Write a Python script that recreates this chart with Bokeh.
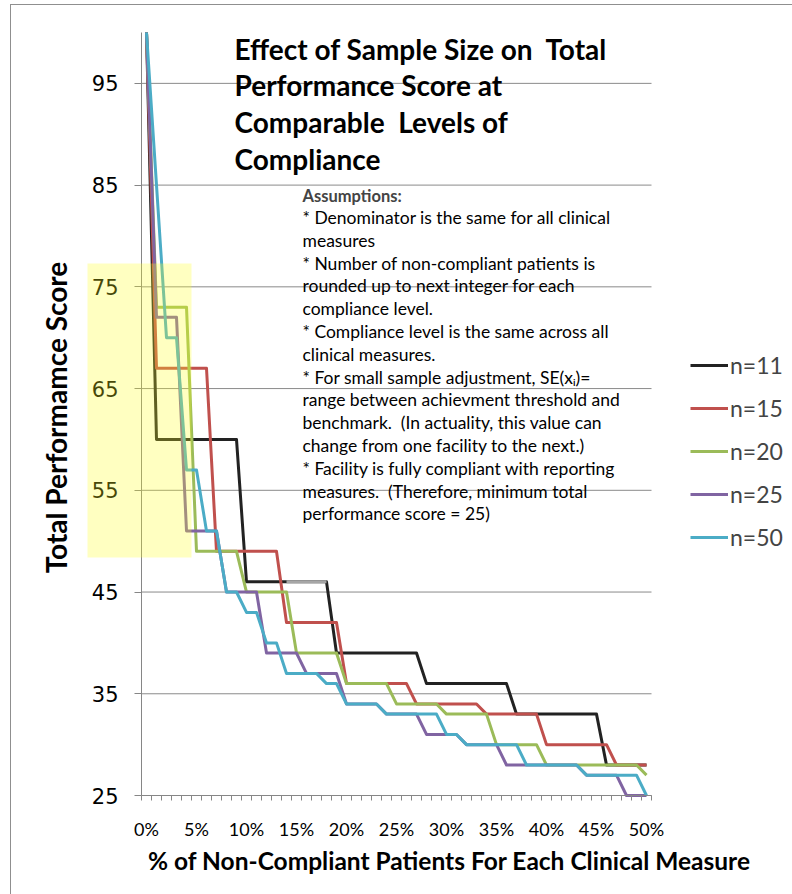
import math
from bokeh.plotting import figure
from bokeh.models import (Range1d, FixedTicker, Legend, LegendItem, BoxAnnotation, Label,
                          ColumnDataSource, InlineStyleSheet)
from bokeh.embed import file_html
from bokeh.resources import INLINE

NaN = float("nan")

# ---------------- data ----------------
pct = [0, 1, 2, 3, 4, 5, 6, 7, 8, 9, 10, 11, 12, 13, 14, 15, 16, 17, 18, 19, 20,
       21, 22, 23, 24, 25, 26, 27, 28, 29, 30, 31, 32, 33, 34, 35, 36, 37, 38, 39, 40,
       41, 42, 43, 44, 45, 46, 47, 48, 49, 50]

n11 = [100, 60, 60, 60, 60, 60, 60, 60, 60, 60, 46, 46, 46, 46, 46, 46, 46, 46, 46,
       39, 39, 39, 39, 39, 39, 39, 39, 39, 36, 36, 36, 36, 36, 36, 36, 36, 36,
       33, 33, 33, 33, 33, 33, 33, 33, 33, 28, 28, 28, 28, 28]
n11_grey = [NaN, NaN, NaN, NaN, NaN, NaN, NaN, NaN, NaN, NaN, NaN, NaN, NaN, NaN,
            46, 46, 46, 46, 46, NaN, NaN, NaN, NaN, NaN, NaN, NaN, NaN, NaN, NaN, NaN,
            NaN, NaN, NaN, NaN, NaN, NaN, NaN, NaN, NaN, NaN, NaN, NaN, NaN, NaN, NaN,
            NaN, NaN, NaN, NaN, NaN, NaN]
n15 = [100, 67, 67, 67, 67, 67, 67, 49, 49, 49, 49, 49, 49, 49, 42, 42, 42, 42, 42, 42,
       36, 36, 36, 36, 36, 36, 36, 34, 34, 34, 34, 34, 34, 34, 33, 33, 33, 33, 33, 33,
       30, 30, 30, 30, 30, 30, 30, 28, 28, 28, 28]
n20 = [100, 73, 73, 73, 73, 49, 49, 49, 49, 49, 45, 45, 45, 45, 45, 39, 39, 39, 39, 39,
       36, 36, 36, 36, 36, 34, 34, 34, 34, 34, 33, 33, 33, 33, 33, 30, 30, 30, 30, 30,
       28, 28, 28, 28, 28, 28, 28, 28, 28, 28, 27]
n25 = [100, 72, 72, 72, 51, 51, 51, 51, 45, 45, 45, 45, 39, 39, 39, 39, 37, 37, 37, 37,
       34, 34, 34, 34, 33, 33, 33, 33, 31, 31, 31, 31, 30, 30, 30, 30, 28, 28, 28, 28,
       28, 28, 28, 28, 27, 27, 27, 27, 25, 25, 25]
n50 = [100, 85, 70, 70, 57, 57, 51, 51, 45, 45, 43, 43, 40, 40, 37, 37, 37, 37, 36, 36,
       34, 34, 34, 34, 33, 33, 33, 33, 33, 33, 31, 31, 30, 30, 30, 30, 30, 30, 28, 28,
       28, 28, 28, 28, 27, 27, 27, 27, 27, 27, 25]

series_names = ["n=11", "n=15", "n=20", "n=25", "n=50"]
series_colors = ["#222222", "#C0504D", "#9BBB59", "#8064A2", "#4BACC6"]
grey_color = "#A6A6A6"

x_tick_values = [0, 5, 10, 15, 20, 25, 30, 35, 40, 45, 50]
x_tick_labels = ["0%", "5%", "10%", "15%", "20%", "25%", "30%", "35%", "40%", "45%", "50%"]
y_tick_values = [25, 35, 45, 55, 65, 75, 85, 95]

x_title = "% of Non-Compliant Patients For Each Clinical Measure"
y_title = "Total Performamce Score"
title_lines = ["Effect of Sample Size on\u00a0 Total", "Performance Score at",
               "Comparable\u00a0 Levels of", "Compliance"]
assumption_lines = [
    "* Denominator is the same for all clinical",
    "measures",
    "* Number of non-compliant patients is",
    "rounded up to next integer for each",
    "compliance level.",
    "* Compliance level is the same across all",
    "clinical measures.",
    "* For small sample adjustment, SE(x\u1d62)=",
    "range between achievment threshold and",
    "benchmark.\u00a0 (In actuality, this value can",
    "change from one facility to the next.)",
    "* Facility is fully compliant with reporting",
    "measures.\u00a0 (Therefore, minimum total",
    "performance score = 25)",
]

# ---------------- geometry ----------------
W, H = 792, 894
AX_L, AX_R, AX_T, AX_B = 141, 651, 32, 795      # plotting area in page pixels
XA, XB = -0.5, 50.5
YA, YB = 25, 100
ppx = (AX_R - AX_L) / (XB - XA)
ppy = (AX_B - AX_T) / (YB - YA)
X0 = XA - AX_L / ppx
X1 = X0 + W / ppx
Y0 = YA - (H - AX_B) / ppy
Y1 = Y0 + H / ppy

def xd(px):
    return X0 + px / ppx

def yd(py):
    return Y0 + (H - py) / ppy

p = figure(frame_width=W, frame_height=H, output_backend="svg", toolbar_location=None,
           x_range=Range1d(X0, X1), y_range=Range1d(Y0, Y1), min_border=0)
p.outline_line_color = None
p.background_fill_color = "white"
p.border_fill_color = "white"
p.stylesheets = [InlineStyleSheet(css=":host::before {content: ''; position: absolute; "
                                      "left: 10px; top: 4px; right: -20px; bottom: -20px; "
                                      "border: 1px solid #8f8f8f; pointer-events: none; z-index: 5;}")]

src = ColumnDataSource(dict(pct=pct, n11=n11, n11_grey=n11_grey, n15=n15, n20=n20,
                            n25=n25, n50=n50))

# horizontal gridlines over the plotting area
grid_src = ColumnDataSource(dict(y=y_tick_values, x0=[XA] * len(y_tick_values),
                                 x1=[XB] * len(y_tick_values)))
p.segment(x0="x0", x1="x1", y0="y", y1="y", source=grid_src, line_color="#8a8a8a",
          line_width=1)

renderers = []
cols = ["n11", "n15", "n20", "n25", "n50"]
for c, name, col in zip(cols, series_names, series_colors):
    r = p.line("pct", c, source=src, line_color=col, line_width=3, line_join="round")
    renderers.append(r)
    if c == "n11":
        p.line("pct", "n11_grey", source=src, line_color=grey_color, line_width=3)

# axes (placed inside the full-canvas frame)
p.xaxis.fixed_location = YA
p.xaxis.bounds = (XA, XB)
p.xaxis.ticker = FixedTicker(ticks=x_tick_values,
                             minor_ticks=[k - 0.5 for k in range(52)])
p.xaxis.major_label_overrides = dict(zip(x_tick_values, x_tick_labels))
p.xaxis.major_tick_out = 0
p.xaxis.major_tick_in = 0
p.xaxis.minor_tick_out = 5
p.xaxis.minor_tick_in = 0
p.xaxis.minor_tick_line_color = "#868686"
p.xaxis.axis_line_color = "#868686"
p.xaxis.major_label_text_font = "Lato"
p.xaxis.major_label_text_font_size = "18px"
p.xaxis.major_label_text_color = "black"
p.xaxis.major_label_standoff = 17

p.yaxis.fixed_location = XA
p.yaxis.bounds = (YA, YB)
p.yaxis.ticker = FixedTicker(ticks=y_tick_values, minor_ticks=[])
p.yaxis.major_tick_out = 7
p.yaxis.major_tick_in = 0
p.yaxis.major_tick_line_color = "#868686"
p.yaxis.axis_line_color = "#868686"
p.yaxis.major_label_text_font = "DejaVu Sans"
p.yaxis.major_label_text_font_size = "21px"
p.yaxis.major_label_text_color = "black"
p.yaxis.major_label_standoff = 16

p.xgrid.visible = False
p.ygrid.visible = False

# axis titles
p.add_layout(Label(x=xd(449), y=yd(860), text=x_title, text_font="Lato",
                   text_font_style="bold", text_font_size="24.5px", text_align="center",
                   text_baseline="middle", text_color="black"))
p.add_layout(Label(x=xd(55), y=yd(417), text=y_title, text_font="Lato", angle=math.pi / 2,
                   text_font_style="bold", text_font_size="28px", text_align="center",
                   text_baseline="middle", text_color="black"))

# chart title
for i, t in enumerate(title_lines):
    p.add_layout(Label(x=xd(234), y=yd(48 + 36.7 * i), text=t, text_font="Lato",
                       text_font_style="bold", text_font_size="28px",
                       text_baseline="middle", text_color="black"))

# assumptions
p.add_layout(Label(x=xd(302), y=yd(195), text="Assumptions:", text_font="Lato",
                   text_font_style="bold", text_font_size="16.5px", text_baseline="middle"))
for i, t in enumerate(assumption_lines):
    p.add_layout(Label(x=xd(302), y=yd(217 + 22.8 * i), text=t, text_font="Lato",
                       text_font_size="17.5px", text_baseline="middle", text_color="black"))

# yellow highlight
p.add_layout(BoxAnnotation(left=xd(87), right=xd(191), top=yd(263), bottom=yd(557),
                           fill_color="#FFFF20", fill_alpha=0.28, line_alpha=0))

# legend
legend = Legend(items=[LegendItem(label=n, renderers=[r]) for n, r in zip(series_names, renderers)],
                location=(690, H - 551), label_text_font="Lato", label_text_font_size="23px",
                glyph_width=38, glyph_height=20, label_height=20, spacing=15,
                padding=0, margin=0, border_line_alpha=0, background_fill_alpha=0,
                label_standoff=2)
p.add_layout(legend)

open("out.html", "w").write(file_html(p, INLINE))
